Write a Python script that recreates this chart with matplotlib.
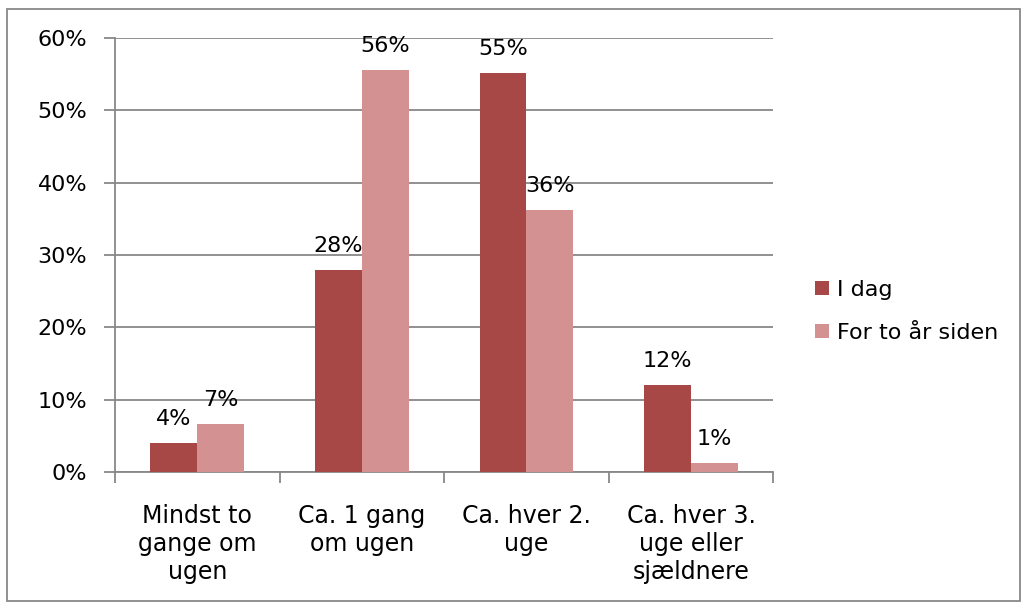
import numpy as np
import matplotlib
matplotlib.use("Agg")
import matplotlib.pyplot as plt
from matplotlib.patches import Rectangle
from matplotlib.ticker import FixedLocator, PercentFormatter

categories = ["Mindst to\ngange om\nugen", "Ca. 1 gang\nom ugen", "Ca. hver 2.\nuge", "Ca. hver 3.\nuge eller\nsjældnere"]
i_dag = [4.0, 27.9, 55.2, 12.0]
for_to_aar = [6.6, 55.6, 36.2, 1.2]
series_names = ["I dag", "For to år siden"]
colors = ["#A84846", "#D39191"]

plt.rcParams['font.family'] = ['DejaVu Sans']
fig = plt.figure(figsize=(10.27, 6.08), dpi=100)
ax = fig.add_axes([0.112, 0.2237, 0.641, 0.7138])

x = np.arange(len(categories))
w = 0.285
b1 = ax.bar(x - w / 2, i_dag, w, color=colors[0], label=series_names[0], zorder=3)
b2 = ax.bar(x + w / 2, for_to_aar, w, color=colors[1], label=series_names[1], zorder=3)

for bars, vals in [(b1, i_dag), (b2, for_to_aar)]:
    for rect, v in zip(bars, vals):
        ax.annotate(f"{v:.0f}%", (rect.get_x() + rect.get_width() / 2, v),
                    xytext=(0, 10), textcoords="offset points",
                    ha="center", va="bottom", fontsize=16, color="black",
                    zorder=4)

ax.set_xlim(-0.5, len(categories) - 0.5)
ax.set_ylim(0, 60)
ax.set_yticks(range(0, 61, 10))
ax.yaxis.set_major_formatter(PercentFormatter(decimals=0))
ax.grid(axis="y", color="#888888", linewidth=1.3, zorder=0)

ax.xaxis.set_major_locator(FixedLocator(np.arange(-0.5, len(categories), 1)))
ax.xaxis.set_minor_locator(FixedLocator(x))
ax.set_xticklabels([])
ax.set_xticklabels(categories, minor=True, fontsize=17, linespacing=1.22)
ax.tick_params(axis="x", which="major", length=8, width=1.3, color="#888888", direction="out")
ax.tick_params(axis="x", which="minor", length=0, pad=23)
ax.tick_params(axis="y", length=8, width=1.3, color="#888888", labelsize=16, pad=12)

for s in ["top", "right"]:
    ax.spines[s].set_visible(False)
for s in ["left", "bottom"]:
    ax.spines[s].set_color("#888888")
    ax.spines[s].set_linewidth(1.3)

ax.legend(loc="center left", bbox_to_anchor=(1.063, 0.37), frameon=False,
          fontsize=16, handlelength=0.63, handleheight=0.6, handletextpad=0.35,
          labelspacing=1.05, borderpad=0, borderaxespad=0)

fig.patches.append(Rectangle((0.007, 0.012), 0.986, 0.974, transform=fig.transFigure,
                             fill=False, edgecolor="#888888", linewidth=1.3))

fig.savefig("out.png", dpi=100)
